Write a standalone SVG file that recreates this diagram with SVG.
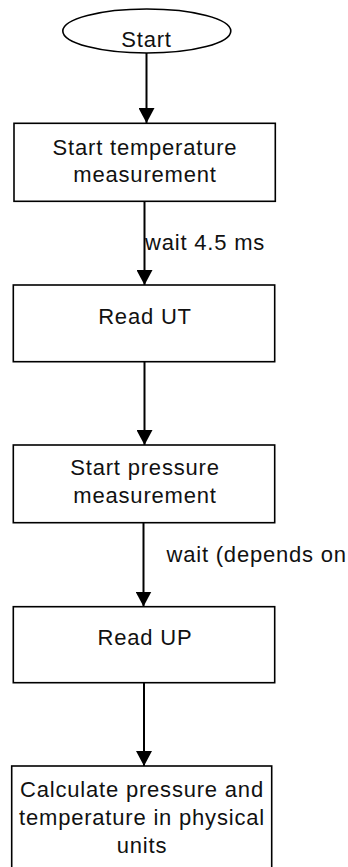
<svg xmlns="http://www.w3.org/2000/svg" width="348" height="867" viewBox="0 0 348 867">
<style>
.shape{fill:#fff;stroke:#000;stroke-width:1.6}
.t{font-family:"Liberation Sans",Arial,sans-serif;font-size:22px;letter-spacing:0.8px;fill:#111;text-anchor:middle}
.lbl{font-family:"Liberation Sans",Arial,sans-serif;font-size:22px;letter-spacing:0.8px;fill:#111}
.edge{fill:none;stroke:#000;stroke-width:2}
</style>
<defs>
<marker id="ah" markerUnits="userSpaceOnUse" markerWidth="15" markerHeight="16" refX="15" refY="8" orient="auto" viewBox="0 0 15 16">
<path d="M0,0 L15,8 L0,16 Z" fill="#000"/>
</marker>
</defs>
<g id="connectors">
<path class="edge" d="M146.5,53 L146.5,123" marker-end="url(#ah)"/>
<path class="edge" d="M144.5,202 L144.5,285" marker-end="url(#ah)"/>
<path class="edge" d="M144.5,362 L144.5,445" marker-end="url(#ah)"/>
<path class="edge" d="M143.5,523 L143.5,606.5" marker-end="url(#ah)"/>
<path class="edge" d="M144,683 L144,766" marker-end="url(#ah)"/>
</g>
<g id="label-wait-ut"><text class="lbl" x="145" y="250">wait 4.5 ms</text></g>
<g id="label-wait-up"><text class="lbl" x="166.5" y="562">wait (depends on</text></g>
<g id="start">
<ellipse class="shape" cx="146.8" cy="31" rx="84" ry="22"/>
<text class="t" x="146.5" y="46.5">Start</text>
</g>
<g id="start-temp">
<rect class="shape" x="14" y="123.3" width="261.3" height="78"/>
<text class="t" x="145" y="155">Start temperature</text>
<text class="t" x="145" y="181.7">measurement</text>
</g>
<g id="read-ut">
<rect class="shape" x="13.3" y="285" width="261.4" height="76.7"/>
<text class="t" x="145" y="324">Read UT</text>
</g>
<g id="start-pressure">
<rect class="shape" x="13.3" y="445" width="261.4" height="77.7"/>
<text class="t" x="145" y="475">Start pressure</text>
<text class="t" x="145" y="503.3">measurement</text>
</g>
<g id="read-up">
<rect class="shape" x="13.3" y="606.7" width="261.4" height="76"/>
<text class="t" x="145" y="645">Read UP</text>
</g>
<g id="calculate">
<rect class="shape" x="11.7" y="766" width="260" height="120"/>
<text class="t" x="142" y="796.7">Calculate pressure and</text>
<text class="t" x="142" y="825">temperature in physical</text>
<text class="t" x="142" y="852.5">units</text>
</g>
</svg>
